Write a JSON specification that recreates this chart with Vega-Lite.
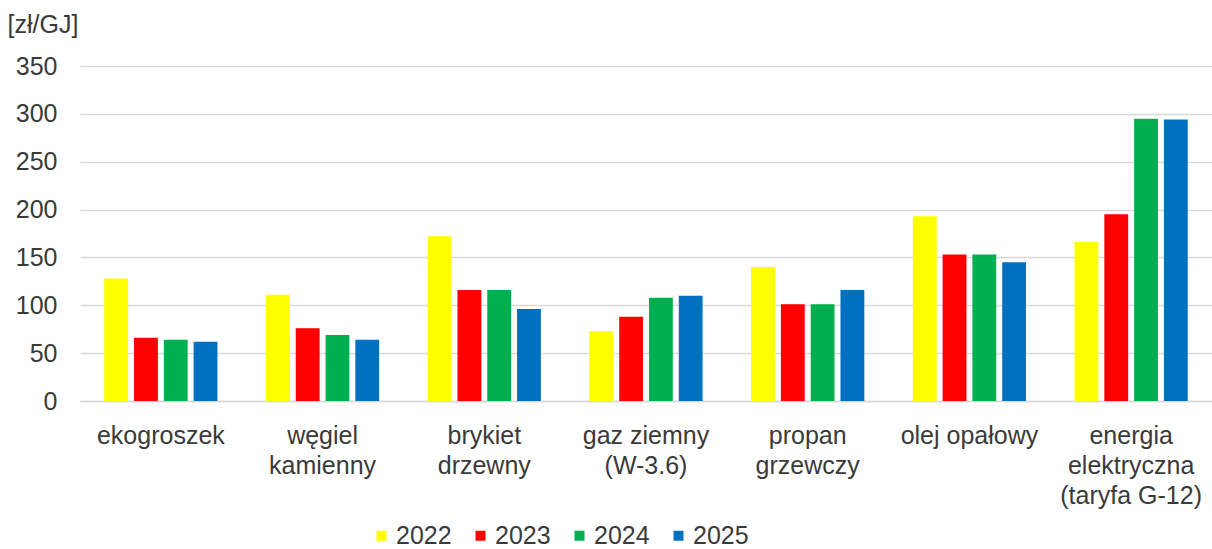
{
  "$schema": "https://vega.github.io/schema/vega-lite/v6.json",
  "autosize": "none",
  "width": 1132,
  "height": 335,
  "padding": {"left": 80, "top": 66, "right": 0, "bottom": 148},
  "background": "white",
  "data": {
    "values": [
      {"paliwo": "ekogroszek", "rok": "2022", "cena": 128},
      {"paliwo": "ekogroszek", "rok": "2023", "cena": 66},
      {"paliwo": "ekogroszek", "rok": "2024", "cena": 64},
      {"paliwo": "ekogroszek", "rok": "2025", "cena": 62},
      {"paliwo": "węgiel|kamienny", "rok": "2022", "cena": 111},
      {"paliwo": "węgiel|kamienny", "rok": "2023", "cena": 76},
      {"paliwo": "węgiel|kamienny", "rok": "2024", "cena": 69},
      {"paliwo": "węgiel|kamienny", "rok": "2025", "cena": 64},
      {"paliwo": "brykiet|drzewny", "rok": "2022", "cena": 172},
      {"paliwo": "brykiet|drzewny", "rok": "2023", "cena": 116},
      {"paliwo": "brykiet|drzewny", "rok": "2024", "cena": 116},
      {"paliwo": "brykiet|drzewny", "rok": "2025", "cena": 96},
      {"paliwo": "gaz ziemny|(W-3.6)", "rok": "2022", "cena": 73},
      {"paliwo": "gaz ziemny|(W-3.6)", "rok": "2023", "cena": 88},
      {"paliwo": "gaz ziemny|(W-3.6)", "rok": "2024", "cena": 108},
      {"paliwo": "gaz ziemny|(W-3.6)", "rok": "2025", "cena": 110},
      {"paliwo": "propan|grzewczy", "rok": "2022", "cena": 140},
      {"paliwo": "propan|grzewczy", "rok": "2023", "cena": 101},
      {"paliwo": "propan|grzewczy", "rok": "2024", "cena": 101},
      {"paliwo": "propan|grzewczy", "rok": "2025", "cena": 116},
      {"paliwo": "olej opałowy", "rok": "2022", "cena": 193},
      {"paliwo": "olej opałowy", "rok": "2023", "cena": 153},
      {"paliwo": "olej opałowy", "rok": "2024", "cena": 153},
      {"paliwo": "olej opałowy", "rok": "2025", "cena": 145},
      {"paliwo": "energia|elektryczna|(taryfa G-12)", "rok": "2022", "cena": 166},
      {"paliwo": "energia|elektryczna|(taryfa G-12)", "rok": "2023", "cena": 195},
      {"paliwo": "energia|elektryczna|(taryfa G-12)", "rok": "2024", "cena": 295},
      {"paliwo": "energia|elektryczna|(taryfa G-12)", "rok": "2025", "cena": 294}
    ]
  },
  "mark": {"type": "bar"},
  "encoding": {
    "x": {
      "field": "paliwo",
      "type": "nominal",
      "sort": null,
      "scale": {"paddingInner": 0.3, "paddingOuter": 0.15},
      "axis": {
        "title": null,
        "labelAngle": 0,
        "labelExpr": "split(datum.label, '|')",
        "labelFont": "Liberation Sans",
        "labelFontSize": 25,
        "labelLineHeight": 30,
        "labelColor": "#3a3a3a",
        "labelPadding": 22,
        "labelBaseline": "top",
        "ticks": false,
        "domain": true,
        "domainColor": "#d9d9d9",
        "domainWidth": 1.5,
        "grid": false
      }
    },
    "xOffset": {
      "field": "rok",
      "type": "nominal",
      "scale": {"paddingInner": 0.2, "paddingOuter": 0}
    },
    "y": {
      "field": "cena",
      "type": "quantitative",
      "scale": {"domain": [0, 350], "nice": false},
      "axis": {
        "values": [0, 50, 100, 150, 200, 250, 300, 350],
        "title": "[zł/GJ]",
        "titleAngle": 0,
        "titleAlign": "left",
        "titleBaseline": "alphabetic",
        "titleX": -73,
        "titleY": -34,
        "titleFont": "Liberation Sans",
        "titleFontSize": 25,
        "titleFontWeight": "normal",
        "titleColor": "#3a3a3a",
        "labelFont": "Liberation Sans",
        "labelFontSize": 25,
        "labelColor": "#3a3a3a",
        "labelPadding": 23,
        "ticks": false,
        "domain": false,
        "grid": true,
        "gridColor": "#d9d9d9",
        "gridWidth": 1.5
      }
    },
    "color": {
      "field": "rok",
      "type": "nominal",
      "scale": {
        "domain": ["2022", "2023", "2024", "2025"],
        "range": ["#ffff00", "#ff0000", "#00b050", "#0070c0"]
      },
      "legend": {
        "title": null,
        "orient": "none",
        "direction": "horizontal",
        "columns": 4,
        "legendX": 289,
        "legendY": 457,
        "symbolType": "square",
        "symbolSize": 100,
        "symbolStrokeWidth": 0,
        "labelFont": "Liberation Sans",
        "labelFontSize": 25,
        "labelColor": "#3a3a3a",
        "labelOffset": 2,
        "columnPadding": 16
      }
    }
  },
  "config": {
    "view": {"stroke": null}
  }
}
